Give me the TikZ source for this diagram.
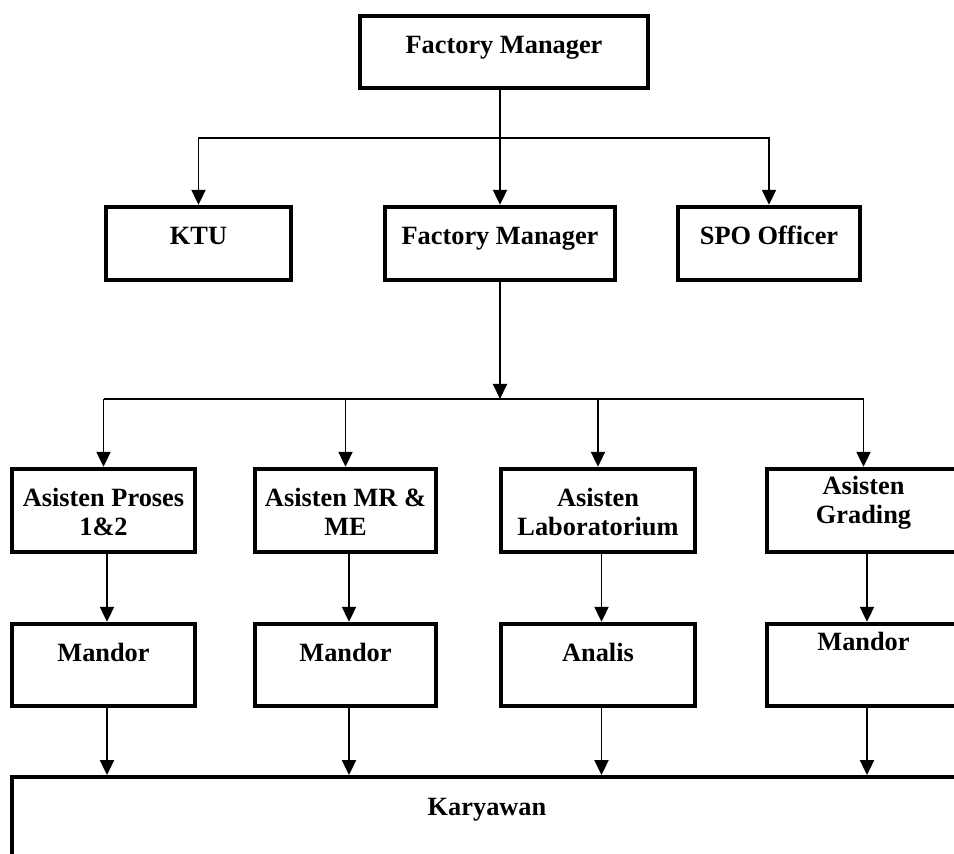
\documentclass[tikz,border=0pt]{standalone}
\usepackage{fontspec}
\setmainfont{Liberation Serif}
\usetikzlibrary{arrows.meta}
\begin{document}
\begin{tikzpicture}[x=0.02cm, y=-0.02cm,
    box/.style={draw, line width=2.2pt, inner xsep=2pt, inner ysep=0pt, align=center,
      font=\fontsize{15}{16.5}\selectfont\bfseries, text height=0.76cm},
    link/.style={line width=1.1pt, -{Triangle[length=0.3cm, width=0.28cm]}}]
  \useasboundingbox (0,0) rectangle (954,854);
  \clip (0,0) rectangle (954,854);
  \node[box, minimum width=5.77cm, text depth=0.69cm] (fm) at (504,52) {Factory Manager};
  \node[box, minimum width=3.71cm, text depth=0.71cm] (ktu) at (198.5,243.5) {KTU};
  \node[box, minimum width=4.61cm, text depth=0.71cm] (fm2) at (500,243.5) {Factory Manager};
  \node[box, minimum width=3.65cm, text depth=0.71cm] (spo) at (769,243.5) {SPO Officer};
  \node[box, minimum width=3.67cm, text height=1.34cm, text depth=0.33cm] (a1) at (103.5,510.5) {Asisten Proses\\1\&2};
  \node[box, minimum width=3.63cm, text height=1.34cm, text depth=0.33cm] (a2) at (345.5,510.5) {Asisten MR \&\\ME};
  \node[box, minimum width=3.88cm, text height=1.34cm, text depth=0.33cm] (a3) at (598,510.5) {Asisten\\Laboratorium};
  \node[box, minimum width=3.87cm, text height=1.1cm, text depth=0.57cm] (a4) at (863.5,510.5) {Asisten\\Grading};
  \node[box, minimum width=3.67cm, text depth=0.89cm] (m1) at (103.5,665) {Mandor};
  \node[box, minimum width=3.63cm, text depth=0.89cm] (m2) at (345.5,665) {Mandor};
  \node[box, minimum width=3.88cm, text depth=0.89cm] (m3) at (598,665) {Analis};
  \node[box, minimum width=3.87cm, text height=0.54cm, text depth=1.11cm] (m4) at (863.5,665) {Mandor};
  \node[box, minimum width=19cm, text depth=1.3cm] (kary) at (487,828.5) {Karyawan};
  \coordinate (s1) at (499,138);
  \coordinate (s2) at (500,399);
  \draw[link] (fm.south -| fm2.north) -- (fm2.north);
  \draw[link] (s1) -| (ktu.north);
  \draw[link] (s1) -| (spo.north);
  \draw[link] (fm2.south) -- (s2);
  \draw[line width=1.1pt] (a1.north |- s2) -- (a4.north |- s2);
  \foreach \i in {1,...,4} {
    \draw[link] (a\i.north |- s2) -- (a\i.north);
    \draw[link] ([xshift=0.07cm]a\i.south) -- ([xshift=0.07cm]m\i.north);
    \draw[link] ([xshift=0.07cm]m\i.south) -- ([xshift=0.07cm]m\i.south |- kary.north);
  }
\end{tikzpicture}
\end{document}
